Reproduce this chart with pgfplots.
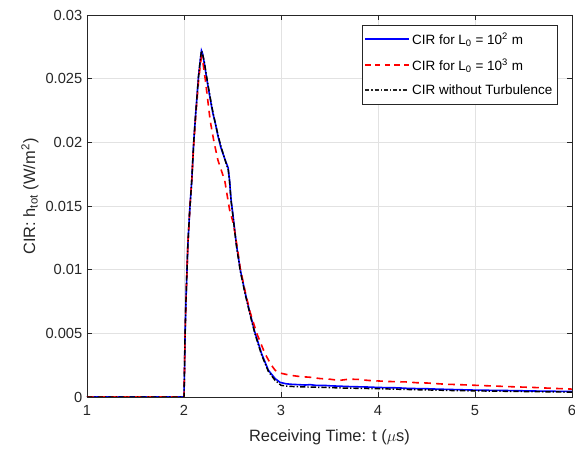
\documentclass[border=0pt]{standalone}
\usepackage{fontspec}
\setmainfont{Liberation Sans}
\usepackage{pgfplots}
\pgfplotsset{compat=1.18}
\definecolor{axc}{HTML}{262626}
\definecolor{gridc}{HTML}{E2E2E2}
\newcommand{\dsh}[1]{\rule[-0.6pt]{#1}{1.2pt}}
\begin{document}
\begin{tikzpicture}
\begin{axis}[
  scale only axis, width=363.75pt, height=286.5pt,
  xmin=1, xmax=6, ymin=0, ymax=0.03,
  xtick={1,2,3,4,5,6},
  ytick={0,0.005,0.01,0.015,0.02,0.025,0.03},
  yticklabels={0,0.005,0.01,0.015,0.02,0.025,0.03},
  scaled y ticks=false,
  grid=major, major grid style={gridc, line width=0.5pt},
  axis line style={axc, line width=0.5pt},
  tick style={axc, line width=0.5pt},
  tick align=inside, major tick length=3.75pt,
  xtick pos=both, ytick pos=both,
  /pgf/number format/assume math mode=true,
  ticklabel style={font=\fontsize{11}{13}\selectfont, text=axc},
  xticklabel style={yshift=-3pt},
  xlabel={Receiving Time: t ($\mu$s)},
  ylabel={CIR: h\textsubscript{tot} (W/m\textsuperscript{2})},
  every axis x label/.style={at={(axis description cs:0.5,-0.1047)}, anchor=center,
    font=\fontsize{12.3}{14}\selectfont, text=axc},
  every axis y label/.style={at={(axis description cs:-0.1175,0.525)}, anchor=center, rotate=90,
    font=\fontsize{12.3}{14}\selectfont, text=axc},
  legend style={at={(axis description cs:1,1)}, anchor=north east, xshift=-10.5pt, yshift=-7.5pt,
    draw=axc, line width=0.5pt, fill=white, font=\fontsize{10.1}{12}\selectfont,
    inner xsep=2pt, inner ysep=3.5pt, row sep=5.5pt},
  legend cell align=left,
]
\addplot[draw=blue, line width=1.2pt,
  legend image code/.code={\node[inner sep=0pt, anchor=west] at (0pt,0pt)
    {\textcolor{blue}{\dsh{33pt}}};}] coordinates {
(1,0) (1.99,0) (2.0,0) (2.005,0.002) (2.01,0.0045) (2.02,0.0075) (2.03,0.0098) (2.04,0.0120)
(2.06,0.0148) (2.08,0.0170) (2.10,0.0200) (2.12,0.0222) (2.15,0.0252) (2.17,0.0266) (2.18,0.0272)
(2.19,0.0270) (2.21,0.0262) (2.23,0.0252) (2.25,0.0243) (2.28,0.0230) (2.30,0.0222) (2.32,0.0216)
(2.35,0.0205) (2.38,0.0196) (2.42,0.0187) (2.44,0.0183) (2.455,0.0180) (2.47,0.0170) (2.485,0.0155) (2.50,0.0146)
(2.54,0.0120) (2.58,0.0100) (2.63,0.0082) (2.68,0.0066) (2.73,0.0051) (2.80,0.0034) (2.87,0.0021)
(2.94,0.00144) (2.99,0.00115) (3.05,0.00104) (3.10,0.00100) (3.15,0.00098) (3.2,0.00096) (3.25,0.00094)
(3.3,0.00097) (3.35,0.00092) (3.4,0.00090) (3.45,0.00091) (3.5,0.00088) (3.6,0.00085) (3.7,0.00082)
(3.8,0.00080) (3.9,0.00078) (4.0,0.00075) (4.1,0.00073) (4.2,0.00072) (4.3,0.00068) (4.4,0.00066)
(4.5,0.00065) (4.6,0.00062) (4.7,0.00060) (4.8,0.00058) (4.9,0.00056) (5.0,0.00054) (5.2,0.00052)
(5.4,0.00050) (5.6,0.00047) (5.8,0.00045) (6.0,0.00043)
};
\addlegendentry{CIR for L\textsubscript{0} = 10\textsuperscript{2} m}
\addplot[draw=red, line width=1.2pt, dash pattern=on 5pt off 4pt,
  legend image code/.code={\node[inner sep=0pt, anchor=west] at (0pt,0pt)
    {\textcolor{red}{\dsh{4pt}\kern3.25pt\dsh{4pt}\kern3.25pt\dsh{4pt}\kern3.25pt\dsh{4pt}\kern3.25pt\dsh{4pt}}};}] coordinates {
(1,0) (1.99,0) (2.0,0) (2.005,0.002) (2.01,0.0045) (2.02,0.0075) (2.03,0.0098) (2.04,0.0120)
(2.06,0.0148) (2.08,0.0170) (2.10,0.0198) (2.12,0.0220) (2.15,0.0248) (2.17,0.0262) (2.18,0.0267)
(2.19,0.0265) (2.20,0.0260) (2.22,0.0249) (2.25,0.0230) (2.27,0.0217) (2.31,0.0200) (2.35,0.0186)
(2.42,0.0170) (2.47,0.0147) (2.51,0.0136) (2.55,0.0117) (2.58,0.0101) (2.63,0.0083) (2.68,0.0067)
(2.75,0.0050) (2.835,0.0034) (2.90,0.0025) (2.94,0.0021) (2.98,0.0019) (3.02,0.00183) (3.1,0.0017)
(3.2,0.0016) (3.3,0.00155) (3.4,0.00145) (3.5,0.00140) (3.6,0.00130) (3.7,0.00140) (3.8,0.00138)
(3.9,0.00130) (4.0,0.00126) (4.1,0.00122) (4.2,0.00120) (4.3,0.00118) (4.4,0.00112) (4.5,0.00110)
(4.6,0.00105) (4.7,0.00100) (4.8,0.00098) (4.9,0.00095) (5.0,0.00092) (5.2,0.00086) (5.4,0.00080)
(5.6,0.00075) (5.8,0.00068) (6.0,0.00062)
};
\addlegendentry{CIR for L\textsubscript{0} = 10\textsuperscript{3} m}
\addplot[draw=black, line width=1.1pt, dash pattern=on 4pt off 1.5pt on 1pt off 1.5pt,
  legend image code/.code={\node[inner sep=0pt, anchor=west] at (0pt,0pt)
    {\textcolor{axc}{\dsh{3pt}\kern1.5pt\dsh{1pt}\kern1.5pt\dsh{3pt}\kern1.5pt\dsh{1pt}\kern1.5pt\dsh{3pt}\kern1.5pt\dsh{1pt}\kern1.5pt\dsh{3pt}\kern1.5pt\dsh{1pt}\kern1.5pt\dsh{3pt}}};}] coordinates {
(1,0) (1.99,0) (2.0,0) (2.005,0.002) (2.01,0.0045) (2.02,0.0075) (2.03,0.0098) (2.04,0.0120)
(2.06,0.0148) (2.08,0.0170) (2.10,0.0200) (2.12,0.0222) (2.15,0.0252) (2.17,0.0266) (2.18,0.0272)
(2.19,0.0270) (2.21,0.0263) (2.23,0.0253) (2.25,0.0244) (2.28,0.0231) (2.30,0.0223) (2.32,0.0216)
(2.35,0.0206) (2.38,0.0197) (2.42,0.0187) (2.44,0.0182) (2.455,0.0179) (2.47,0.0169) (2.485,0.0154) (2.50,0.0145)
(2.54,0.0119) (2.58,0.0099) (2.63,0.0081) (2.68,0.0065) (2.73,0.0050) (2.80,0.0033) (2.87,0.0020)
(2.94,0.00130) (3.0,0.00092) (3.05,0.00086) (3.1,0.00083) (3.2,0.00080) (3.3,0.00078) (3.4,0.00076)
(3.5,0.00074) (3.6,0.00071) (3.8,0.00068) (4.0,0.00065) (4.2,0.00061) (4.4,0.00057) (4.6,0.00054)
(4.8,0.00050) (5.0,0.00048) (5.2,0.00046) (5.4,0.00044) (5.6,0.00042) (5.8,0.00040) (6.0,0.00038)
};
\addlegendentry{CIR without Turbulence}
\end{axis}
\pgfresetboundingbox
\path ([shift={(-65.25pt,-40.5pt)}]current axis.south west) rectangle ([shift={(2.25pt,11.25pt)}]current axis.north east);
\end{tikzpicture}
\end{document}
